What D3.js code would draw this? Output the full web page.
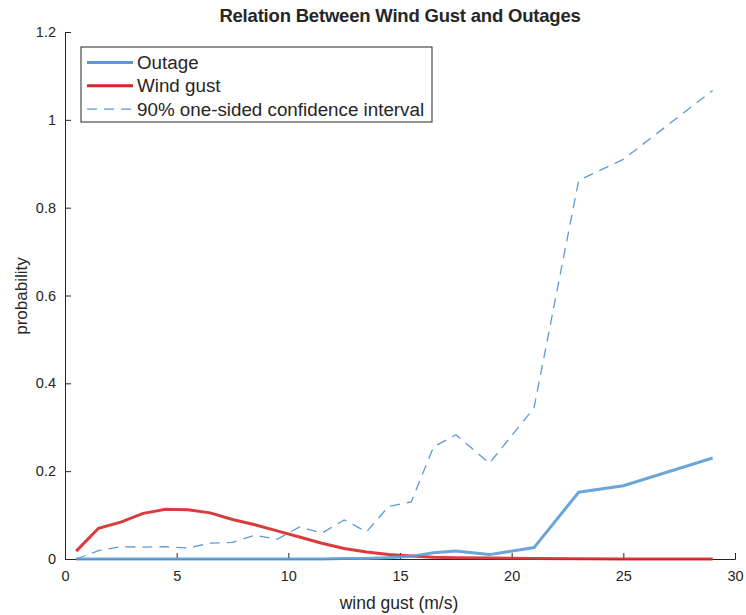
<!DOCTYPE html>
<html>
<head>
<meta charset="utf-8">
<title>Relation Between Wind Gust and Outages</title>
<script src="https://d3js.org/d3.v7.min.js"></script>
<style>
  body { margin: 0; background: #fff; }
  text { font-family: "Liberation Sans", Arial, Helvetica, sans-serif; fill: #262626; }
</style>
</head>
<body>
<script>
// wind gust bins (m/s)
const gust = [0.5, 1.5, 2.5, 3.5, 4.5, 5.5, 6.5, 7.5, 8.5, 9.5, 10.5, 11.5, 12.5, 13.5, 14.5, 15.5, 16.5, 17.5, 19, 21, 23, 25, 29];
const outage = [0, 0, 0, 0, 0, 0, 0, 0, 0, 0, 0, 0, 0.001, 0.001, 0.003, 0.006, 0.014, 0.018, 0.01, 0.026, 0.152, 0.167, 0.23];
const windGust = [0.018, 0.07, 0.084, 0.104, 0.113, 0.112, 0.105, 0.09, 0.078, 0.064, 0.05, 0.036, 0.024, 0.016, 0.01, 0.007, 0.004, 0.003, 0.002, 0.001, 0.0005, 0.0002, 0];
const upperCI = [0, 0.019, 0.028, 0.027, 0.028, 0.025, 0.036, 0.038, 0.054, 0.045, 0.073, 0.059, 0.089, 0.062, 0.12, 0.13, 0.255, 0.283, 0.218, 0.344, 0.862, 0.91, 1.067];
const xTicks = [0, 5, 10, 15, 20, 25, 30];
const yTicks = [0, 0.2, 0.4, 0.6, 0.8, 1, 1.2];

const width = 746, height = 615;
const margin = {top: 32, right: 11, bottom: 56, left: 65};
const blue = '#5b9bd5', red = '#d62728';

const svg = d3.select('body').append('svg')
    .attr('width', width)
    .attr('height', height);

const x = d3.scaleLinear().domain([0, 30]).range([margin.left, width - margin.right]);
const y = d3.scaleLinear().domain([0, 1.2]).range([height - margin.bottom, margin.top]);

// axes (matlab style, ticks inside)
const xAxis = svg.append('g')
    .attr('transform', `translate(0,${y(0)})`)
    .call(d3.axisBottom(x).tickValues(xTicks).tickSize(-6).tickPadding(12).tickFormat(d3.format('d')));
const yAxis = svg.append('g')
    .attr('transform', `translate(${x(0)},0)`)
    .call(d3.axisLeft(y).tickValues(yTicks).tickSize(-6).tickPadding(9).tickFormat(d => d));
[xAxis, yAxis].forEach(a => {
    a.select('.domain').attr('stroke', '#262626');
    a.selectAll('.tick line').attr('stroke', '#262626');
    a.selectAll('text').style('font-size', '14.5px').attr('fill', '#4d4d4d');
});

const line = vals => d3.line()
    .x((d, i) => x(gust[i]))
    .y(d => y(d))(vals);

svg.append('path').attr('d', line(upperCI))
    .attr('fill', 'none').attr('stroke', blue).attr('stroke-width', 1.3)
    .attr('stroke-dasharray', '10,7');
svg.append('path').attr('d', line(windGust))
    .attr('fill', 'none').attr('stroke', red).attr('stroke-width', 3).attr('opacity', 0.9);
svg.append('path').attr('d', line(outage))
    .attr('fill', 'none').attr('stroke', blue).attr('stroke-width', 3).attr('opacity', 0.9);

// title & labels
svg.append('text')
    .attr('x', 400).attr('y', 22)
    .attr('text-anchor', 'middle')
    .style('font-size', '18.5px').style('font-weight', 'bold')
    .style('letter-spacing', '-0.2px')
    .attr('fill', '#000')
    .text('Relation Between Wind Gust and Outages');
svg.append('text')
    .attr('x', 399).attr('y', 609)
    .attr('text-anchor', 'middle')
    .style('font-size', '17.5px')
    .text('wind gust (m/s)');
svg.append('text')
    .attr('transform', 'translate(27,296) rotate(-90)')
    .attr('text-anchor', 'middle')
    .style('font-size', '17px')
    .text('probability');

// legend
const legendItems = [
    {name: 'Outage', color: blue, dash: null, w: 3},
    {name: 'Wind gust', color: red, dash: null, w: 3},
    {name: '90% one-sided confidence interval', color: blue, dash: '10,7', w: 1.3}
];
const lg = svg.append('g').attr('transform', 'translate(81,47)');
lg.append('rect')
    .attr('width', 351).attr('height', 75)
    .attr('fill', '#fff').attr('stroke', '#262626').attr('stroke-width', 1);
legendItems.forEach((d, i) => {
    const cy = 15.5 + i * 23.3;
    lg.append('line')
        .attr('x1', 6).attr('x2', 52).attr('y1', cy).attr('y2', cy)
        .attr('stroke', d.color).attr('stroke-width', d.w)
        .attr('stroke-dasharray', d.dash);
    lg.append('text')
        .attr('x', 56).attr('y', cy + 6.5)
        .style('font-size', '18.8px')
        .text(d.name);
});
</script>
</body>
</html>
